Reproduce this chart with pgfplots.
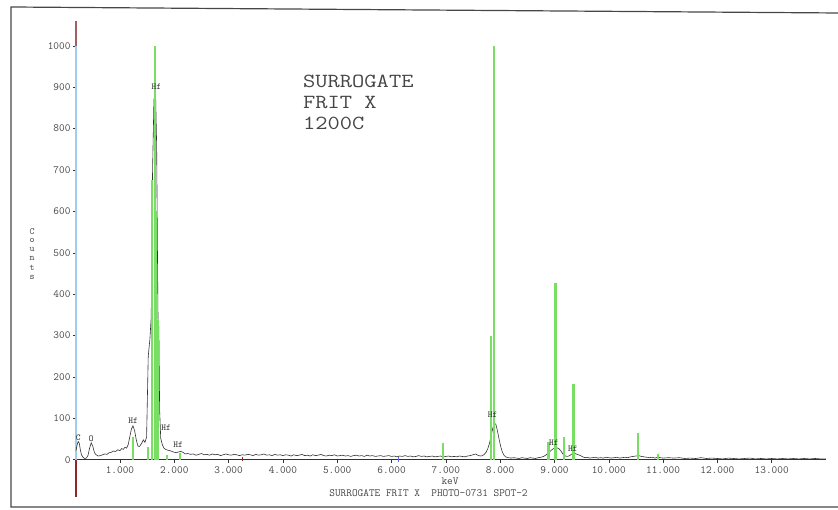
\documentclass[border=0pt]{standalone}
\usepackage{fontspec}
\usepackage{graphicx}
\usepackage{pgfplots}
\pgfplotsset{compat=1.18}
\definecolor{ink}{RGB}{50,50,50}
\definecolor{txt}{RGB}{70,70,70}
\definecolor{klm}{RGB}{120,222,100}
\definecolor{yblue}{RGB}{160,205,235}
\definecolor{ybrown}{RGB}{165,95,95}
\definecolor{yred}{RGB}{140,40,40}
\definecolor{framec}{RGB}{70,70,70}
\definecolor{pinkm}{RGB}{235,140,190}

% EDS spectrum (keV, counts)
\pgfplotstableread{
x y
0.19 22
0.21 36
0.23 44
0.25 40
0.27 24
0.29 12
0.32 6
0.35 3
0.38 4
0.41 10
0.44 28
0.47 41
0.50 32
0.53 17
0.56 12
0.60 9
0.64 10
0.68 12
0.72 14
0.76 13
0.80 17
0.84 18
0.88 21
0.92 20
0.96 24
1.00 22
1.03 27
1.06 25
1.09 30
1.12 28
1.15 36
1.18 55
1.21 74
1.24 82
1.27 70
1.30 48
1.33 33
1.36 32
1.40 40
1.43 48
1.46 42
1.49 55
1.52 250
1.55 290
1.575 345
1.60 700
1.625 870
1.655 885
1.675 760
1.69 500
1.70 340
1.715 320
1.73 120
1.75 52
1.78 36
1.81 28
1.84 25
1.88 23
1.92 22
1.96 20
2.00 18
2.04 17
2.08 19
2.12 20
2.16 18
2.20 14
2.25 15
2.30 13
2.35 14
2.40 11
2.45 13
2.50 15
2.55 12
2.60 13
2.65 11
2.70 14
2.75 12
2.80 13
2.85 10
2.90 12
2.95 14
3.00 12
3.05 11
3.10 13
3.15 12
3.20 10
3.25 12
3.30 11
3.35 13
3.40 12
3.45 10
3.50 13
3.55 11
3.60 12
3.65 14
3.70 11
3.75 12
3.80 10
3.85 13
3.90 11
3.95 12
4.00 10
4.05 12
4.10 11
4.15 9
4.20 12
4.25 10
4.30 11
4.35 13
4.40 10
4.45 11
4.50 9
4.55 12
4.60 10
4.65 11
4.70 13
4.75 10
4.80 9
4.85 11
4.90 10
4.95 12
5.00 9
5.05 10
5.10 11
5.15 9
5.20 10
5.25 8
5.30 10
5.35 11
5.40 9
5.45 10
5.50 8
5.55 11
5.60 9
5.65 10
5.70 8
5.75 9
5.80 10
5.85 8
5.90 9
5.95 10
6.00 8
6.05 9
6.10 7
6.15 9
6.20 8
6.25 10
6.30 8
6.35 9
6.40 7
6.45 8
6.50 10
6.55 8
6.60 9
6.65 7
6.70 8
6.75 9
6.80 7
6.85 8
6.90 9
6.95 7
7.00 8
7.05 9
7.10 7
7.15 8
7.20 7
7.25 9
7.30 8
7.35 7
7.40 9
7.45 10
7.50 12
7.55 14
7.60 10
7.65 9
7.70 12
7.74 18
7.77 26
7.80 38
7.83 55
7.86 74
7.89 88
7.92 86
7.95 70
7.98 50
8.01 32
8.04 19
8.07 11
8.10 7
8.15 5
8.20 4
8.25 5
8.30 4
8.35 3
8.40 5
8.45 4
8.50 3
8.55 5
8.60 4
8.65 3
8.70 5
8.75 6
8.80 8
8.85 12
8.90 18
8.95 24
9.00 28
9.04 29
9.08 27
9.12 21
9.16 13
9.20 9
9.24 8
9.28 10
9.32 14
9.36 16
9.40 14
9.44 12
9.48 10
9.52 7
9.56 5
9.60 6
9.65 4
9.70 5
9.75 6
9.80 4
9.85 5
9.90 4
9.95 6
10.00 5
10.05 4
10.10 5
10.15 6
10.20 4
10.25 5
10.30 6
10.35 5
10.40 7
10.45 8
10.50 9
10.55 10
10.60 8
10.65 7
10.70 6
10.75 5
10.80 6
10.85 4
10.90 6
10.95 5
11.00 4
11.10 5
11.20 4
11.30 5
11.40 3
11.50 4
11.60 3
11.70 5
11.80 3
11.90 4
12.00 3
12.10 2
12.20 4
12.30 3
12.40 2
12.50 3
12.60 4
12.70 2
12.80 3
12.90 2
13.00 3
13.10 2
13.20 3
13.30 2
13.40 3
13.50 2
13.60 3
13.70 2
13.80 3
13.90 2
14.00 2
}\spectrum

\begin{document}
\begin{tikzpicture}[
  lbl/.style={font=\ttfamily\fontsize{9}{9}\selectfont, text=ink, inner sep=0pt},
]
\useasboundingbox (0,0) rectangle (838pt,510pt);
\begin{axis}[
  at={(76pt,13pt)}, anchor=south west,
  scale only axis, width=750pt, height=476pt,
  xmin=0.19, xmax=14.0, ymin=-90, ymax=1060,
  axis x line*=middle, axis y line*=left,
  hide obscured x ticks=false, hide obscured y ticks=false,
  x axis line style={draw=ink, line width=0.8pt},
  y axis line style={draw=none},
  xtick={1,2,...,13},
  xticklabels={1.000,2.000,3.000,4.000,5.000,6.000,7.000,8.000,9.000,10.000,11.000,12.000,13.000},
  ytick={0,100,...,1000},
  yticklabels={0,100,200,300,400,500,600,700,800,900,1000},
  tick align=outside, major tick length=3pt,
  tick style={draw=ink, line width=0.5pt},
  ticklabel style={font=\ttfamily\fontsize{11}{11}\selectfont, text=txt},
  yticklabel style={xshift=1pt},
  clip=false,
  klmline/.style={klm, line width=2.1pt, forget plot},
]
% cursor / axis markers
\addplot[yred, line width=1.2pt] coordinates {(0.19,-90) (0.19,0)};
\addplot[yblue, line width=1.2pt] coordinates {(0.19,0) (0.19,1000)};
\addplot[ybrown, line width=1.2pt] coordinates {(0.19,1000) (0.19,1060)};

% measured spectrum
\addplot[ink, line width=0.6pt] table[x=x, y=y] {\spectrum};

% Hf KLM marker lines
\addplot[klmline] coordinates {(1.239,0) (1.239,55)};
\addplot[klmline] coordinates {(1.515,0) (1.515,31)};
\addplot[klmline] coordinates {(1.583,0) (1.583,676)};
\addplot[klmline] coordinates {(1.645,0) (1.645,1000)};
\addplot[klmline] coordinates {(1.671,0) (1.671,600)};
\addplot[klmline] coordinates {(1.705,0) (1.705,338)};
\addplot[klmline] coordinates {(1.859,0) (1.859,12)};
\addplot[klmline] coordinates {(2.104,0) (2.104,17)};
\addplot[klmline] coordinates {(6.94,0) (6.94,41)};
\addplot[klmline] coordinates {(7.83,0) (7.83,300)};
\addplot[klmline] coordinates {(7.89,0) (7.89,1000)};
\addplot[klmline] coordinates {(8.89,0) (8.89,44)};
\addplot[klmline] coordinates {(9.02,0) (9.02,426)};
\addplot[klmline] coordinates {(9.17,0) (9.17,55)};
\addplot[klmline] coordinates {(9.35,0) (9.35,183)};
\addplot[klmline] coordinates {(10.53,0) (10.53,65)};
\addplot[klmline] coordinates {(10.90,0) (10.90,15)};

% small cursor ticks
\addplot[pinkm, line width=1.4pt] coordinates {(1.655,770) (1.655,825)};
\addplot[yred, line width=0.8pt] coordinates {(3.26,-4) (3.26,6)};
\addplot[blue!60, line width=0.8pt] coordinates {(6.13,-5) (6.13,6)};

% peak identifications
\node[lbl] at (axis cs:0.23,53) {C};
\node[lbl] at (axis cs:0.47,50) {O};
\node[lbl] at (axis cs:1.24,94) {Hf};
\node[lbl] at (axis cs:1.67,900) {Hf};
\node[lbl] at (axis cs:1.85,77) {Hf};
\node[lbl] at (axis cs:2.07,36) {Hf};
\node[lbl] at (axis cs:7.86,109) {Hf};
\node[lbl] at (axis cs:8.99,41) {Hf};
\node[lbl] at (axis cs:9.34,27) {Hf};
\end{axis}

\begin{scope}[x=1pt, y=-1pt, shift={(0pt,510pt)}]
  % outer frame
  \draw[framec, line width=1.2pt] (838,13) -- (11,7) -- (11,507) -- (838,507);
  % sample title: wide typewriter lettering
  \begin{scope}[every node/.style={anchor=base west, inner sep=0pt, text=txt,
      font=\ttfamily\fontsize{20}{20}\selectfont}]
    \node at (303,88) {\scalebox{1.19}[1]{SURROGATE}};
    \node at (303,109) {\scalebox{1.19}[1]{FRIT X}};
    \node at (303,130) {\scalebox{1.19}[1]{1200C}};
  \end{scope}
  % vertical axis title
  \foreach \ch [count=\i] in {C,o,u,n,t,s}
    \node[font=\ttfamily\fontsize{9.5}{9.5}\selectfont, text=txt, inner sep=0pt]
      at (32,{222+9.2*\i}) {\ch};
  \node[font=\ttfamily\fontsize{11}{11}\selectfont, text=txt, inner sep=0pt] at (450,481) {keV};
  \node[font=\ttfamily\fontsize{11}{11}\selectfont, text=txt, inner sep=0pt] at (428.5,493.5)
    {SURROGATE FRIT X\ \ PHOTO-0731 SPOT-2};
\end{scope}
\end{tikzpicture}
\end{document}
